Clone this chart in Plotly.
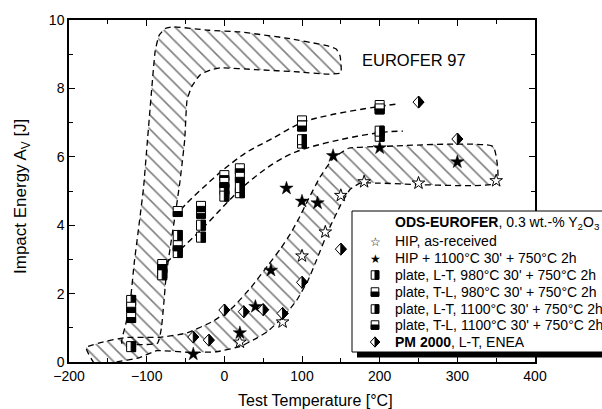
import plotly.graph_objects as go

# ---------------- data ----------------
# EUROFER 97 scatter band (hatched region), outline traced clockwise
eurofer_band_T = [-132, -127, -121, -116, -111, -104, -100, -94, -89, -84, -76, -66,
                  -20, 20, 80, 132, 144, 149, 150,
                  130, 97, 40, -5, -18, -31, -42, -48, -51, -57, -62, -70, -75, -78, -81, -86]
eurofer_band_E = [0.55, 1.1, 1.8, 2.9, 3.8, 5.1, 6.2, 7.85, 9.1, 9.55, 9.75, 9.8,
                  9.7, 9.65, 9.47, 9.25, 9.15, 8.95, 8.45,
                  8.42, 8.48, 8.55, 8.6, 8.54, 8.4, 8.05, 7.66, 6.5, 5.3, 4.5, 3.3, 2.5, 1.7, 1.0, 0.55]

# ODS-EUROFER (HIP) scatter band (hatched region)
ods_band_T = [-178, -150, -125, -100, -83, -48, -14, 11, 35, 57, 72, 85, 96, 108, 123, 140, 160, 200, 346,
              351, 200, 175, 162, 150, 135, 119, 108, 93, 75, 55, 37, 20, -10, -44, -87, -110, -140, -165]
ods_band_E = [0.42, 0.62, 0.72, 0.72, 0.72, 0.85, 1.2, 1.6, 2.2, 2.85, 3.3, 3.75, 4.2, 4.75, 5.4, 5.95, 6.25, 6.3, 6.3,
              5.23, 5.23, 5.23, 5.05, 4.6, 3.9, 3.0, 2.4, 1.8, 1.3, 0.88, 0.64, 0.45, 0.3, 0.28, 0.33, 0.12, 0.0, -0.1]

# trend curves for the plate material
plate_upper_T = [-56, -48, -20, 3, 30, 59, 100, 136, 196, 225]
plate_upper_E = [4.45, 4.65, 5.25, 5.7, 6.15, 6.5, 7.0, 7.22, 7.46, 7.55]
plate_lower_T = [-75, -53, -22, 3, 24, 63, 93, 149, 209, 230]
plate_lower_E = [2.9, 3.36, 4.05, 4.65, 5.12, 5.8, 6.15, 6.5, 6.73, 6.75]

# HIP, as-received
hip_ar_T = [20, 75, 100, 130, 150, 180, 250, 350]
hip_ar_E = [0.58, 1.17, 3.1, 3.8, 4.87, 5.27, 5.23, 5.3]

# HIP + 1100°C 30' + 750°C 2h
hip_ht_T = [-40, 20, 40, 60, 80, 100, 120, 140, 200, 300]
hip_ht_E = [0.23, 0.85, 1.62, 2.68, 5.08, 4.7, 4.65, 6.03, 6.26, 5.85]

# plate material, four orientations / heat treatments
plate_T = [-120, -80, -60, -30, 0, 20, 100, 200]
plate_lt980_E = [1.8, 2.75, 3.7, 3.65, 5.05, 4.95, 6.4, 6.6]
plate_tl980_E = [1.3, 2.6, 4.4, 4.35, 5.45, 5.65, 7.05, 7.5]
plate_lt1100_E = [0.45, 2.55, 3.2, 4.0, 4.85, 5.1, 6.5, 6.75]
plate_tl1100_E = [1.6, 2.85, 3.4, 4.55, 5.25, 5.4, 6.9, 7.4]

# PM 2000, L-T, ENEA
pm2000_T = [-40, -20, 0, 25, 50, 75, 100, 150, 250, 300]
pm2000_E = [0.73, 0.64, 1.52, 1.47, 1.53, 1.42, 2.33, 3.3, 7.6, 6.52]

legend_kinds = ["star-open", "star", "LT", "TL", "LT", "TL", "PM"]
legend_labels = [
    "HIP, as-received",
    "HIP + 1100°C 30' + 750°C 2h",
    "plate, L-T, 980°C 30' + 750°C 2h",
    "plate, T-L, 980°C 30' + 750°C 2h",
    "plate, L-T, 1100°C 30' + 750°C 2h",
    "plate, T-L, 1100°C 30' + 750°C 2h",
    "<b>PM 2000</b>, L-T, ENEA",
]
legend_title = "<b>ODS-EUROFER</b>, 0.3 wt.-% Y<sub>2</sub>O<sub>3</sub>"

FONT = "Liberation Sans, Arial, Helvetica, sans-serif"
GLYPH_FONT = "DejaVu Sans"

W, H = 602, 409
L, R, T, B = 69, 67, 20, 47
pw, ph = W - L - R, H - T - B


def px_x(p):
    return (p - L) / pw


def px_y(p):
    return (H - B - p) / ph


# ---------------- figure ----------------
fig = go.Figure()

hatch = dict(shape="\\", size=10, solidity=0.16, fgcolor="black", bgcolor="rgba(0,0,0,0)")
for bx, by in [(eurofer_band_T, eurofer_band_E), (ods_band_T, ods_band_E)]:
    fig.add_trace(go.Scatter(
        x=bx + bx[:1], y=by + by[:1], mode="lines", fill="toself",
        fillcolor="rgba(0,0,0,0)", fillpattern=hatch,
        line=dict(color="black", width=1.3, dash="6px,4px", shape="spline", smoothing=0.4),
        hoverinfo="skip"))

for cx, cy in [(plate_upper_T, plate_upper_E), (plate_lower_T, plate_lower_E)]:
    fig.add_trace(go.Scatter(
        x=cx, y=cy, mode="lines",
        line=dict(color="black", width=1.4, dash="6px,4px", shape="spline"),
        hoverinfo="skip"))

fig.add_trace(go.Scatter(x=hip_ar_T, y=hip_ar_E, mode="markers",
                         marker=dict(symbol="star", size=9.5, color="white",
                                     line=dict(color="black", width=1))))
fig.add_trace(go.Scatter(x=hip_ht_T, y=hip_ht_E, mode="markers",
                         marker=dict(symbol="star", size=10, color="black",
                                     line=dict(color="black", width=0.5))))


# half-filled symbols built as pixel-sized shapes anchored at data points
def symbol_shapes(kind, xa, ya, xref="x", yref="y", scale=1.0):
    base = dict(xref=xref, yref=yref, xsizemode="pixel", ysizemode="pixel",
                xanchor=xa, yanchor=ya, layer="above")
    hw, hh = 4.5 * scale, 5.0 * scale
    if kind in ("LT", "TL"):
        outline = dict(base, type="rect", x0=-hw, x1=hw, y0=-hh, y1=hh,
                       fillcolor="white", line=dict(color="black", width=1))
        if kind == "LT":
            half = dict(base, type="rect", x0=0, x1=hw, y0=-hh, y1=hh,
                        fillcolor="black", line=dict(color="black", width=1))
        else:
            half = dict(base, type="rect", x0=-hw, x1=hw, y0=-hh, y1=0,
                        fillcolor="black", line=dict(color="black", width=1))
        return [outline, half]
    dw, dh = 5.5 * scale, 6.0 * scale
    outline = dict(base, type="path",
                   path=f"M0,{dh} L{dw},0 L0,{-dh} L{-dw},0 Z",
                   fillcolor="white", line=dict(color="black", width=1))
    half = dict(base, type="path", path=f"M0,{dh} L{dw},0 L0,{-dh} Z",
                fillcolor="black", line=dict(color="black", width=1))
    return [outline, half]


shapes = []
for ser, kind in [(plate_lt980_E, "LT"), (plate_tl980_E, "TL"),
                  (plate_lt1100_E, "LT"), (plate_tl1100_E, "TL")]:
    for t, e in zip(plate_T, ser):
        shapes += symbol_shapes(kind, t, e)
for t, e in zip(pm2000_T, pm2000_E):
    shapes += symbol_shapes("PM", t, e)

axis_common = dict(showline=True, linewidth=1.5, linecolor="black", mirror="allticks",
                   ticks="inside", ticklen=6, tickwidth=1, tickcolor="black",
                   showgrid=False, zeroline=False,
                   tickfont=dict(family=FONT, size=14, color="black"))
fig.update_xaxes(range=[-200, 400], dtick=100, tick0=0,
                 minor=dict(dtick=50, ticks="inside", ticklen=4, tickwidth=1, tickcolor="black"),
                 **axis_common)
fig.update_yaxes(range=[0, 10], dtick=2, tick0=0,
                 minor=dict(dtick=1, ticks="inside", ticklen=4, tickwidth=1, tickcolor="black"),
                 **axis_common)

# legend box with drop shadow
shapes += [
    dict(type="rect", xref="paper", yref="paper", layer="above",
         x0=px_x(357), x1=1.25, y0=px_y(357.5), y1=px_y(300),
         fillcolor="black", line=dict(width=0)),
    dict(type="rect", xref="paper", yref="paper", layer="above",
         x0=px_x(352), x1=1.25, y0=px_y(352), y1=px_y(211),
         fillcolor="white", line=dict(color="black", width=1)),
]

annotations = [
    dict(text="Test Temperature [°C]", x=px_x(315), y=px_y(400), xref="paper", yref="paper",
         showarrow=False, xanchor="center", yanchor="middle", font=dict(family=FONT, size=16)),
    dict(text="Impact Energy A<sub>V</sub> [J]", x=px_x(22), y=px_y(197), xref="paper", yref="paper",
         showarrow=False, textangle=-90, xanchor="center", yanchor="middle",
         font=dict(family=FONT, size=17)),
    dict(text="EUROFER 97", x=px_x(414), y=px_y(60), xref="paper", yref="paper",
         showarrow=False, xanchor="center", yanchor="middle", font=dict(family=FONT, size=16.5)),
    dict(text=legend_title, x=px_x(393), y=px_y(223), xref="paper", yref="paper",
         showarrow=False, xanchor="left", yanchor="middle", font=dict(family=FONT, size=14)),
]
row_y = [241, 258, 275, 292, 309, 325, 342]
star_glyph = {"star-open": "☆", "star": "★"}
for kind, lab, ry in zip(legend_kinds, legend_labels, row_y):
    if kind in star_glyph:
        annotations.append(dict(text=star_glyph[kind], x=px_x(375), y=px_y(ry + 0.5),
                                xref="paper", yref="paper", showarrow=False,
                                xanchor="center", yanchor="middle",
                                font=dict(family=GLYPH_FONT, size=12)))
    else:
        shapes += symbol_shapes(kind, px_x(375), px_y(ry), xref="paper", yref="paper", scale=0.85)
    annotations.append(dict(text=lab, x=px_x(393), y=px_y(ry), xref="paper", yref="paper",
                            showarrow=False, xanchor="left", yanchor="middle",
                            font=dict(family=FONT, size=14)))

fig.update_layout(width=W, height=H, margin=dict(l=L, r=R, t=T, b=B),
                  paper_bgcolor="white", plot_bgcolor="white", showlegend=False,
                  font=dict(family=FONT, size=14, color="black"),
                  shapes=shapes, annotations=annotations)

fig.write_html("out.html")
